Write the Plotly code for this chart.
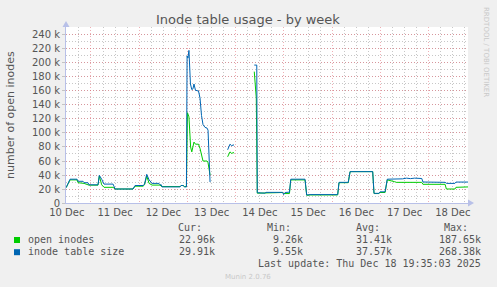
import plotly.graph_objects as go

# ---------------- data ----------------
blue_times = [
    "2025-12-10 11:40", "2025-12-10 13:35", "2025-12-10 17:05", "2025-12-10 17:35",
    "2025-12-10 20:05", "2025-12-10 20:35", "2025-12-10 22:30", "2025-12-10 23:00",
    "2025-12-11 03:30", "2025-12-11 04:10", "2025-12-11 05:20", "2025-12-11 06:30",
    "2025-12-11 11:00", "2025-12-11 12:00", "2025-12-11 20:55", "2025-12-11 21:55",
    "2025-12-12 01:55", "2025-12-12 02:40", "2025-12-12 03:45", "2025-12-12 04:55",
    "2025-12-12 06:25", "2025-12-12 09:50", "2025-12-12 10:20", "2025-12-12 11:00",
    "2025-12-12 11:20", "2025-12-12 20:20", "2025-12-12 20:50", "2025-12-12 21:50",
    "2025-12-12 22:35", "2025-12-12 23:30", "2025-12-12 23:50", "2025-12-13 00:15",
    "2025-12-13 00:45", "2025-12-13 01:30", "2025-12-13 02:10", "2025-12-13 02:45",
    "2025-12-13 03:15", "2025-12-13 04:00", "2025-12-13 05:30", "2025-12-13 06:15",
    "2025-12-13 07:00", "2025-12-13 07:45", "2025-12-13 08:45", "2025-12-13 09:45",
    "2025-12-13 10:15", "2025-12-13 11:15", "2025-12-13 15:00", "2025-12-13 20:00",
    "2025-12-13 21:10", "2025-12-13 21:55", "2025-12-13 23:10", "2025-12-14 04:00",
    "2025-12-14 09:15", "2025-12-14 10:30", "2025-12-14 10:45", "2025-12-14 14:35",
    "2025-12-14 15:05", "2025-12-14 23:20", "2025-12-14 23:50", "2025-12-15 00:35",
    "2025-12-15 02:45", "2025-12-15 03:25", "2025-12-15 10:30", "2025-12-15 11:20",
    "2025-12-15 13:00", "2025-12-16 02:45", "2025-12-16 03:25", "2025-12-16 08:00",
    "2025-12-16 08:55", "2025-12-16 20:10", "2025-12-16 20:50", "2025-12-16 23:20",
    "2025-12-16 23:50", "2025-12-17 02:20", "2025-12-17 03:25", "2025-12-17 08:00",
    "2025-12-17 09:00", "2025-12-17 11:00", "2025-12-17 13:00", "2025-12-17 15:00",
    "2025-12-17 17:00", "2025-12-17 20:35", "2025-12-17 21:10", "2025-12-18 08:10",
    "2025-12-18 09:00", "2025-12-18 13:05", "2025-12-18 13:35", "2025-12-18 19:35",
]
blue_k = [
    22, 34, 34, 31,
    31, 29, 29, 26,
    26, 39.5, 34, 27,
    27, 20, 20, 25,
    25, 27, 41, 33,
    28, 28, 26, 26,
    23, 23, 25, 25,
    23, 23, 210, 207,
    218, 170, 162, 163,
    170, 161, 160, 150,
    125, 112, 108, 107,
    104, 30, None, 76,
    84, 82, 83, None,
    197, 197, 14.7, 14,
    15.2, 15.2, 12, 15,
    15.5, 34, 34, 11.4,
    12, 12, 29.5, 29.5,
    44.8, 44.8, 13.8, 13.8,
    16, 16, 34, 34,
    35, 34.5, 35.5, 34.8,
    35.5, 35, 30, 29.5,
    28, 28, 29.9, 29.91,
]

green_times = [
    "2025-12-10 11:40", "2025-12-10 13:35", "2025-12-10 17:05", "2025-12-10 17:35",
    "2025-12-10 20:35", "2025-12-10 23:00", "2025-12-11 03:30", "2025-12-11 04:10",
    "2025-12-11 05:20", "2025-12-11 06:30", "2025-12-11 11:00", "2025-12-11 12:00",
    "2025-12-11 20:55", "2025-12-11 21:55", "2025-12-12 01:55", "2025-12-12 02:40",
    "2025-12-12 03:45", "2025-12-12 04:55", "2025-12-12 06:25", "2025-12-12 10:20",
    "2025-12-12 11:20", "2025-12-12 20:20", "2025-12-12 20:50", "2025-12-12 21:50",
    "2025-12-12 22:35", "2025-12-12 23:30", "2025-12-13 00:00", "2025-12-13 00:45",
    "2025-12-13 01:35", "2025-12-13 02:10", "2025-12-13 03:15", "2025-12-13 04:00",
    "2025-12-13 05:30", "2025-12-13 06:15", "2025-12-13 07:45", "2025-12-13 09:45",
    "2025-12-13 10:15", "2025-12-13 11:15", "2025-12-13 15:00", "2025-12-13 20:00",
    "2025-12-13 21:10", "2025-12-13 21:55", "2025-12-13 23:10", "2025-12-14 04:00",
    "2025-12-14 09:15", "2025-12-14 10:15", "2025-12-14 10:45", "2025-12-14 14:35",
    "2025-12-14 15:05", "2025-12-14 23:20", "2025-12-14 23:50", "2025-12-15 02:45",
    "2025-12-15 03:25", "2025-12-15 10:30", "2025-12-15 11:20", "2025-12-15 13:00",
    "2025-12-16 02:45", "2025-12-16 03:25", "2025-12-16 08:00", "2025-12-16 08:55",
    "2025-12-16 20:10", "2025-12-16 20:50", "2025-12-16 23:20", "2025-12-16 23:50",
    "2025-12-17 02:20", "2025-12-17 03:25", "2025-12-17 07:00", "2025-12-17 08:00",
    "2025-12-17 20:35", "2025-12-17 21:10", "2025-12-18 08:10", "2025-12-18 08:50",
    "2025-12-18 13:05", "2025-12-18 13:35", "2025-12-18 19:35",
]
green_k = [
    22, 33, 33, 29,
    28, 25.5, 25.5, 38.6,
    26, 22.4, 22.4, 20,
    20, 24, 24, 26,
    38.6, 28, 25.6, 25.6,
    23.5, 23.5, 25, 25,
    23.5, 23.5, 129, 123,
    80, 73, 87, 84,
    84, 78, 60, 60,
    57.5, 40, None, 66,
    73, 71, 72, None,
    187.65, 150, 14, 14,
    15, 15, 13.5, 13.5,
    33, 33, 11, 11.5,
    11.5, 29, 29, 44.8,
    44.8, 13.5, 13.5, 15,
    15, 33, 30.5, 29.5,
    29.5, 26.7, 26.7, 20,
    20, 22.4, 22.96,
]

series_names = ["open inodes", "inode table size"]
series_colors = ["#00cc00", "#0066b3"]
stat_headers = ["Cur:", "Min:", "Avg:", "Max:"]
stats = [
    ["22.96k", "9.26k", "31.41k", "187.65k"],
    ["29.91k", "9.55k", "37.57k", "268.38k"],
]
y_tickvals = list(range(0, 240001, 20000))
y_ticktext = ["0"] + [f"{v // 1000} k" for v in y_tickvals[1:]]

# ---------------- layout helpers ----------------
W, H = 497, 287
L, R, T, B = 66, 29, 27, 84
PW, PH = W - L - R, H - T - B


def px(x):
    return (x - L) / PW


def py(y):
    return (H - B - y) / PH


TXT = "#555555"
AXC = "#b8c0e8"
RED = "rgba(225,110,120,0.55)"
GRAY = "rgba(185,185,185,0.8)"
DASH = "1px,2px"

fig = go.Figure()
fig.add_trace(go.Scatter(x=green_times, y=[None if v is None else v * 1000 for v in green_k],
                         mode="lines", line=dict(color=series_colors[0], width=1),
                         connectgaps=False, showlegend=False))
fig.add_trace(go.Scatter(x=blue_times, y=[None if v is None else v * 1000 for v in blue_k],
                         mode="lines", line=dict(color=series_colors[1], width=1),
                         connectgaps=False, showlegend=False))
# dummy trace so the label axis is drawn
fig.add_trace(go.Scatter(x=[], y=[], xaxis="x2", yaxis="y", showlegend=False))

xr = ["2025-12-10 11:35", "2025-12-18 19:35"]

fig.update_layout(
    width=W, height=H,
    margin=dict(l=L, r=R, t=T, b=B),
    paper_bgcolor="#f0f0f0",
    plot_bgcolor="#ffffff",
    font=dict(family="DejaVu Sans", size=10, color=TXT),
    showlegend=False,
    xaxis=dict(
        type="date", range=xr, tick0="2025-12-10 00:00", dtick=86400000,
        showticklabels=False, showgrid=True, gridcolor=RED, griddash=DASH, gridwidth=1,
        minor=dict(dtick=21600000, showgrid=True, gridcolor=GRAY, griddash=DASH, gridwidth=1),
        showline=True, linecolor=AXC, linewidth=1, zeroline=False, ticks="",
    ),
    xaxis2=dict(
        type="date", range=xr, overlaying="x", matches="x", side="bottom", anchor="y",
        tick0="2025-12-10 12:00", dtick=86400000, tickformat="%d %b",
        showgrid=False, showline=False, zeroline=False, ticks="", ticklabelstandoff=2,
        tickfont=dict(family="DejaVu Sans", size=10, color=TXT),
    ),
    yaxis=dict(
        range=[0, 251400], tickvals=y_tickvals, ticktext=y_ticktext,
        showgrid=True, gridcolor=RED, griddash=DASH, gridwidth=1,
        minor=dict(dtick=10000, showgrid=True, gridcolor=GRAY, griddash=DASH, gridwidth=1),
        showline=True, linecolor=AXC, linewidth=1, zeroline=False,
        ticks="outside", ticklen=3, tickcolor=GRAY,
        tickfont=dict(family="DejaVu Sans", size=10, color=TXT),
    ),
)

ann = []
ann.append(dict(text="Inode table usage - by week", x=px(248), y=py(19), xref="paper", yref="paper",
                xanchor="center", yanchor="middle", showarrow=False,
                font=dict(family="DejaVu Sans", size=13, color=TXT)))
ann.append(dict(text="number of open inodes", x=px(10), y=py(115), xref="paper", yref="paper",
                xanchor="center", yanchor="middle", showarrow=False, textangle=-90,
                font=dict(family="DejaVu Sans", size=11, color=TXT)))
ann.append(dict(text="RRDTOOL / TOBI OETIKER", x=px(486), y=py(52), xref="paper", yref="paper",
                xanchor="center", yanchor="middle", showarrow=False, textangle=90,
                font=dict(family="DejaVu Sans", size=7, color="#c8c8c8")))

MONO = "DejaVu Sans Mono"
hdr_x = [204, 293, 382, 470]
val_x = [216.7, 305, 394, 482.7]
for hx, h in zip(hdr_x, stat_headers):
    ann.append(dict(text=h, x=px(hx), y=py(227.5), xref="paper", yref="paper",
                    xanchor="right", yanchor="middle", showarrow=False,
                    font=dict(family=MONO, size=10, color=TXT)))
row_y = [239.5, 251.7]
for i, name in enumerate(series_names):
    ann.append(dict(text=name, x=px(26), y=py(row_y[i]), xref="paper", yref="paper",
                    xanchor="left", yanchor="middle", showarrow=False,
                    font=dict(family=MONO, size=10, color=TXT)))
    for vx, v in zip(val_x, stats[i]):
        ann.append(dict(text=v, x=px(vx), y=py(row_y[i]), xref="paper", yref="paper",
                        xanchor="right", yanchor="middle", showarrow=False,
                        font=dict(family=MONO, size=10, color=TXT)))
ann.append(dict(text="Last update: Thu Dec 18 19:35:03 2025", x=px(482.7), y=py(263.5),
                xref="paper", yref="paper", xanchor="right", yanchor="middle", showarrow=False,
                font=dict(family=MONO, size=10, color=TXT)))
ann.append(dict(text="Munin 2.0.76", x=px(248), y=py(276.7), xref="paper", yref="paper",
                xanchor="center", yanchor="middle", showarrow=False,
                font=dict(family="DejaVu Sans", size=7, color="#c8c8c8")))

shapes = []
for i, c in enumerate(series_colors):
    cy = row_y[i] + 0.5
    shapes.append(dict(type="rect", xref="paper", yref="paper",
                       x0=px(14), x1=px(20), y0=py(cy - 3), y1=py(cy + 3),
                       fillcolor=c, line=dict(width=0)))
# axis arrows
shapes.append(dict(type="path", xref="paper", yref="paper",
                   path=f"M {px(468)},{py(199.5)} L {px(474)},{py(203)} L {px(468)},{py(206.5)} Z",
                   fillcolor=AXC, line=dict(width=0)))
shapes.append(dict(type="path", xref="paper", yref="paper",
                   path=f"M {px(62.5)},{py(27)} L {px(66)},{py(21)} L {px(69.5)},{py(27)} Z",
                   fillcolor=AXC, line=dict(width=0)))

fig.update_layout(annotations=ann, shapes=shapes)
fig.write_html("out.html")
